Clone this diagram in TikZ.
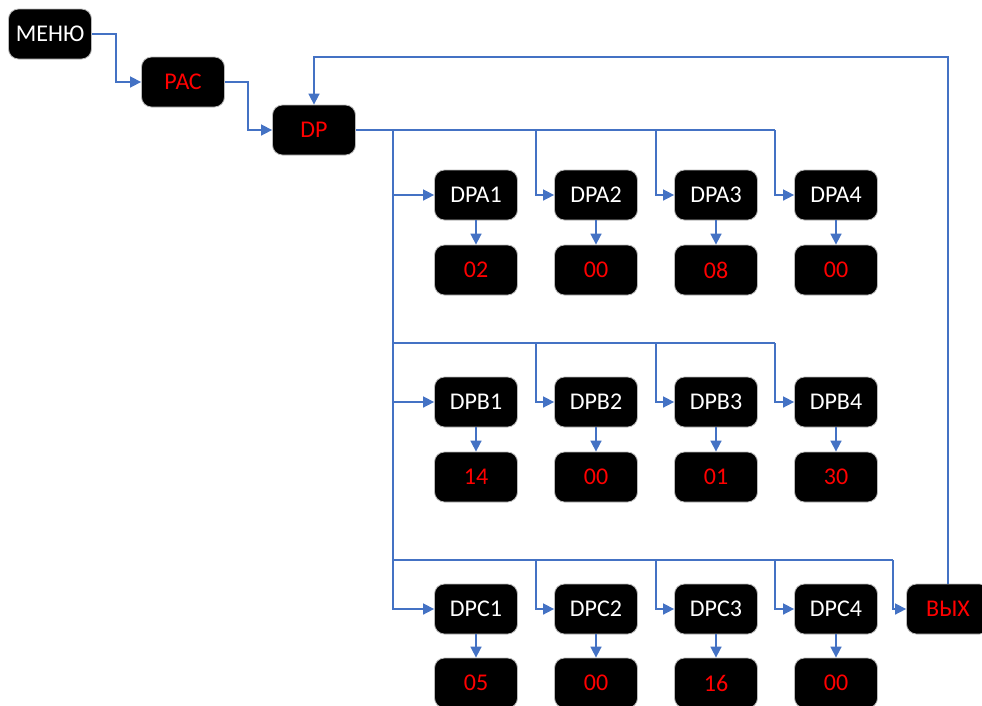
\documentclass[tikz,border=0pt]{standalone}
\usepackage{fontspec}
\setmainfont{Carlito}
\usetikzlibrary{arrows.meta}
\definecolor{lnblue}{HTML}{4472C4}
\definecolor{txtred}{HTML}{FF0000}
\tikzset{
  box/.style={fill=black, draw=gray!55, line width=0.8pt, rounded corners=10pt,
    minimum width=83pt, minimum height=50pt, inner sep=0pt,
    font=\fontsize{24}{28}\selectfont},
  wbox/.style={box, text=white},
  rbox/.style={box, text=txtred},
  ln/.style={draw=lnblue, line width=1.6pt},
  arr/.style={ln, -{Triangle[length=11pt,width=11pt]}}
}
\begin{document}
\begin{tikzpicture}[x=1pt,y=-1pt]
\useasboundingbox (0,0) rectangle (982,705);
% main chain
\node[wbox] (menu) at (50,34) {МЕНЮ};
\node[rbox] (pac) at (183,82) {РАС};
\node[rbox] (dp) at (314,130) {DP};
% rows
\foreach \i/\x in {1/476,2/596,3/716,4/836}{
  \node[wbox] (dpa\i) at (\x,195) {DPA\i};
  \node[wbox] (dpb\i) at (\x,402) {DPB\i};
  \node[wbox] (dpc\i) at (\x,609) {DPC\i};
}
\node[rbox] (va1) at (476,270) {02};
\node[rbox] (va2) at (596,270) {00};
\node[rbox] (va3) at (716,270) {08};
\node[rbox] (va4) at (836,270) {00};
\node[rbox] (vb1) at (476,477) {14};
\node[rbox] (vb2) at (596,477) {00};
\node[rbox] (vb3) at (716,477) {01};
\node[rbox] (vb4) at (836,477) {30};
\node[rbox] (vc1) at (476,683) {05};
\node[rbox] (vc2) at (596,683) {00};
\node[rbox] (vc3) at (716,683) {16};
\node[rbox] (vc4) at (836,683) {00};
\node[rbox] (vyh) at (948,609) {ВЫХ};
% bus coordinates
\coordinate (trunk) at (393,130);
\coordinate (aEnd) at (775,130);
\coordinate (bStart) at (393,343);
\coordinate (bEnd) at (775,343);
\coordinate (cStart) at (393,560);
\coordinate (cEnd) at (893,560);
\coordinate (topY) at (0,57);
% chain connectors
\draw[arr] (menu.east) -- ++(24,0) |- (pac.west);
\draw[arr] (pac.east) -- ++(23,0) |- (dp.west);
% buses
\draw[ln] (dp.east) -- (aEnd);
\draw[ln] (bStart) -- (bEnd);
\draw[ln] (cStart) -- (cEnd);
\draw[arr] (trunk) |- (dpc1.west);
\draw[arr] (dpa1.west -| trunk) -- (dpa1.west);
\draw[arr] (dpb1.west -| trunk) -- (dpb1.west);
\foreach \i/\x in {2/536,3/656,4/775}{
  \coordinate (ba\i) at (\x,130);
  \coordinate (bb\i) at (\x,343);
  \coordinate (bc\i) at (\x,560);
  \draw[arr] (ba\i) |- (dpa\i.west);
  \draw[arr] (bb\i) |- (dpb\i.west);
  \draw[arr] (bc\i) |- (dpc\i.west);
}
\draw[arr] (cEnd) |- (vyh.west);
% return loop
\draw[arr] (vyh.north) -- (vyh.north |- topY) -| (dp.north);
% value arrows
\foreach \i in {1,2,3,4}{
  \draw[arr] (dpa\i) -- (va\i);
  \draw[arr] (dpb\i) -- (vb\i);
  \draw[arr] (dpc\i) -- (vc\i);
}
\end{tikzpicture}
\end{document}
